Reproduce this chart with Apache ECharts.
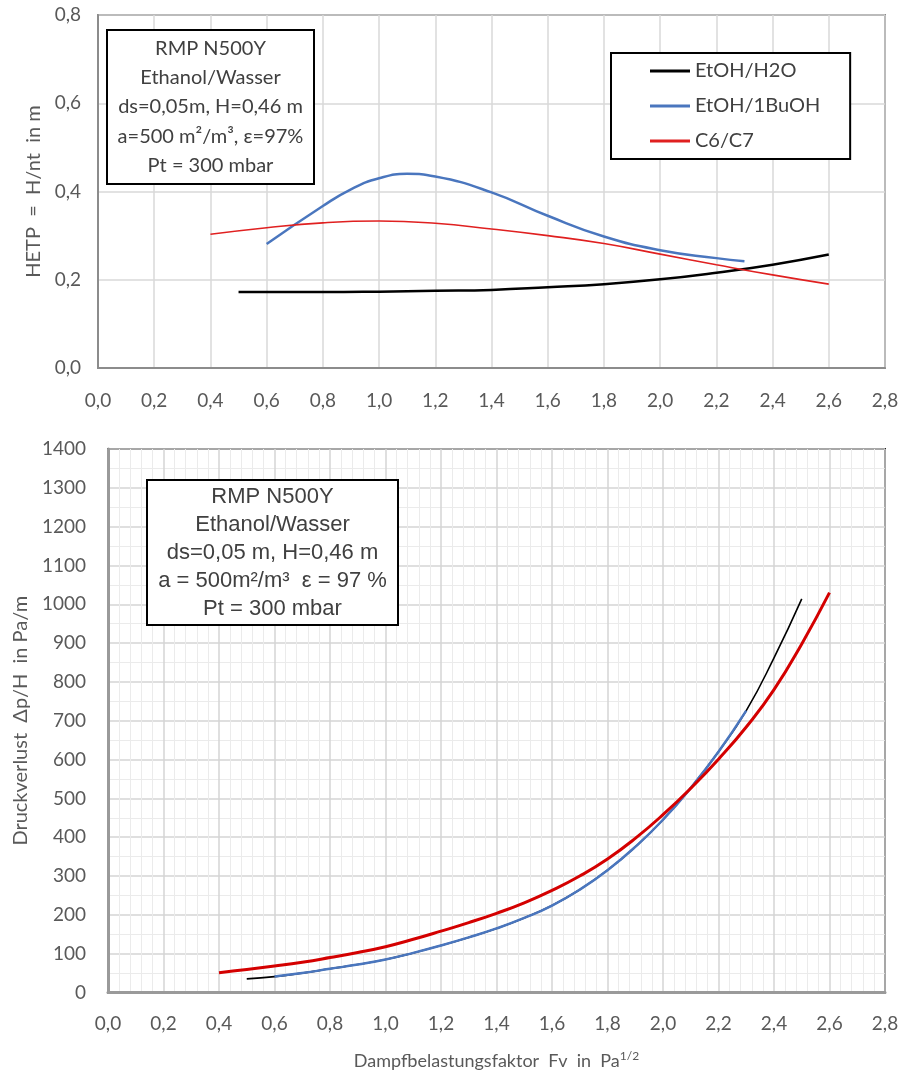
<!DOCTYPE html>
<html>
<head>
<meta charset="utf-8">
<script src="https://cdn.jsdelivr.net/npm/echarts@6/dist/echarts.min.js"></script>
<style>html,body{margin:0;padding:0;background:#fff;}#c{width:904px;height:1075px;}</style>
</head>
<body>
<div id="c"></div>
<script>
// ---- Top chart: HETP ----
const seriesNames = ['EtOH/H2O', 'EtOH/1BuOH', 'C6/C7'];
const hetpBlackX = [0.5, 0.8, 1.0, 1.2, 1.4, 1.6, 1.8, 2.0, 2.2, 2.4, 2.6];
const hetpBlackY = [0.172, 0.172, 0.173, 0.175, 0.177, 0.183, 0.190, 0.201, 0.216, 0.234, 0.257];
const hetpBlueX = [0.6, 0.8, 0.9, 1.0, 1.1, 1.2, 1.4, 1.6, 1.8, 2.0, 2.2, 2.3];
const hetpBlueY = [0.281, 0.367, 0.405, 0.430, 0.440, 0.434, 0.398, 0.345, 0.298, 0.267, 0.249, 0.242];
const hetpRedX = [0.4, 0.6, 0.8, 1.0, 1.2, 1.4, 1.6, 1.8, 2.0, 2.2, 2.4, 2.6];
const hetpRedY = [0.303, 0.318, 0.329, 0.333, 0.328, 0.315, 0.300, 0.282, 0.258, 0.234, 0.211, 0.190];

// ---- Bottom chart: pressure drop ----
const dpBlackX = [0.5, 0.6, 0.7, 0.8, 0.9, 1.0, 1.1, 1.2, 1.3, 1.4, 1.5, 1.6, 1.7, 1.8, 1.9, 2.0, 2.1, 2.2, 2.3, 2.4, 2.5];
const dpBlackY = [35, 41, 50, 61, 72, 85, 102, 121, 142, 165, 192, 224, 265, 315, 375, 445, 527, 620, 726, 862, 1014];
const dpBlueX = [0.6, 0.7, 0.8, 0.9, 1.0, 1.1, 1.2, 1.3, 1.4, 1.5, 1.6, 1.7, 1.8, 1.9, 2.0, 2.1, 2.2, 2.3];
const dpBlueY = [41, 50, 61, 72, 85, 102, 121, 142, 165, 192, 224, 265, 315, 375, 445, 527, 620, 726];
const dpRedX = [0.4, 0.5, 0.6, 0.7, 0.8, 0.9, 1.0, 1.1, 1.2, 1.3, 1.4, 1.5, 1.6, 1.7, 1.8, 1.9, 2.0, 2.1, 2.2, 2.3, 2.4, 2.5, 2.6];
const dpRedY = [51, 59, 68, 78, 90, 103, 118, 137, 158, 180, 204, 231, 263, 300, 344, 397, 458, 526, 601, 684, 780, 898, 1030];

const topBoxLines = ['RMP N500Y', 'Ethanol/Wasser', 'ds=0,05m, H=0,46 m', 'a=500 m²/m³, ε=97%', 'Pt = 300 mbar'];
const bottomBoxLines = ['RMP N500Y', 'Ethanol/Wasser', 'ds=0,05 m, H=0,46 m', 'a = 500m²/m³  ε = 97 %', 'Pt = 300 mbar'];

const zip = (xs, ys) => xs.map((x, i) => [x, ys[i]]);
const FONT = 'Lato';
const comma1 = v => v.toFixed(1).replace('.', ',');

const chart = echarts.init(document.getElementById('c'), null, {renderer: 'canvas'});

const axisLabel = (fmt, margin) => ({color: '#595959', fontSize: 19, fontFamily: FONT, margin: margin, formatter: fmt});

chart.setOption({
  animation: false,
  backgroundColor: '#fff',
  grid: [
    {left: 98, top: 15, width: 787, height: 353, show: true, borderColor: '#333', borderWidth: 1.5, backgroundColor: 'transparent'},
    {left: 108, top: 449, width: 777, height: 547, show: true, borderColor: '#222', borderWidth: 2, backgroundColor: 'transparent'}
  ],
  legend: {
    data: seriesNames,
    orient: 'vertical',
    left: 611, top: 53,
    padding: [8, 30, 8, 39],
    icon: 'rect',
    itemWidth: 40, itemHeight: 3, itemGap: 15,
    borderColor: '#000', borderWidth: 2,
    backgroundColor: '#fff',
    textStyle: {fontFamily: FONT, fontSize: 20, color: '#404040', lineHeight: 20}
  },
  xAxis: [
    {type: 'value', gridIndex: 0, min: 0, max: 2.8, interval: 0.2,
      axisLine: {show: true, onZero: false, lineStyle: {color: '#8c8c8c', width: 2}},
      axisTick: {show: false},
      axisLabel: axisLabel(comma1, 23),
      splitLine: {show: true, lineStyle: {color: '#d9d9d9', width: 1.5}}},
    {type: 'value', gridIndex: 1, min: 0, max: 2.8, interval: 0.2,
      axisLine: {show: true, onZero: false, lineStyle: {color: '#9a9a9a', width: 3}},
      axisTick: {show: false},
      axisLabel: axisLabel(comma1, 22),
      splitLine: {show: true, lineStyle: {color: '#d4d4d4', width: 1.5}},
      minorTick: {show: false, splitNumber: 5},
      minorSplitLine: {show: true, lineStyle: {color: '#ebebeb', width: 1}},
      name: '{a|Dampfbelastungsfaktor  Fv  in  Pa}{s|1/2}',
      nameLocation: 'middle', nameGap: 58,
      nameTextStyle: {rich: {
        a: {fontFamily: FONT, fontSize: 18, color: '#595959'},
        s: {fontFamily: FONT, fontSize: 12, color: '#595959', verticalAlign: 'top', padding: [0, 0, 9, 0]}
      }}}
  ],
  yAxis: [
    {type: 'value', gridIndex: 0, min: 0, max: 0.8, interval: 0.2,
      axisLine: {show: true, onZero: false, lineStyle: {color: '#8c8c8c', width: 2}},
      axisTick: {show: false},
      axisLabel: axisLabel(comma1, 17),
      splitLine: {show: true, lineStyle: {color: '#d9d9d9', width: 1.5}},
      name: 'HETP  =  H/nt  in m', nameLocation: 'middle', nameGap: 52,
      nameTextStyle: {fontFamily: FONT, fontSize: 20, color: '#595959'}},
    {type: 'value', gridIndex: 1, min: 0, max: 1400, interval: 100,
      axisLine: {show: true, onZero: false, lineStyle: {color: '#9a9a9a', width: 3}},
      axisTick: {show: false},
      axisLabel: axisLabel(v => String(v), 22),
      splitLine: {show: true, lineStyle: {color: '#d4d4d4', width: 1.5}},
      minorTick: {show: false, splitNumber: 2},
      minorSplitLine: {show: true, lineStyle: {color: '#ebebeb', width: 1}},
      name: 'Druckverlust  Δp/H  in Pa/m', nameLocation: 'middle', nameGap: 76,
      nameTextStyle: {fontFamily: FONT, fontSize: 20, color: '#595959'}}
  ],
  series: [
    {name: seriesNames[0], type: 'line', xAxisIndex: 0, yAxisIndex: 0, data: zip(hetpBlackX, hetpBlackY),
      smooth: true, symbol: 'none', lineStyle: {color: '#000', width: 2.5}, itemStyle: {color: '#000'}},
    {name: seriesNames[1], type: 'line', xAxisIndex: 0, yAxisIndex: 0, data: zip(hetpBlueX, hetpBlueY),
      smooth: true, symbol: 'none', lineStyle: {color: '#4a76be', width: 2.5}, itemStyle: {color: '#4a76be'}},
    {name: seriesNames[2], type: 'line', xAxisIndex: 0, yAxisIndex: 0, data: zip(hetpRedX, hetpRedY),
      smooth: true, symbol: 'none', lineStyle: {color: '#e02020', width: 1.6}, itemStyle: {color: '#e02020'}},
    {name: seriesNames[0], type: 'line', xAxisIndex: 1, yAxisIndex: 1, data: zip(dpBlackX, dpBlackY),
      smooth: true, symbol: 'none', lineStyle: {color: '#000', width: 1.6}, itemStyle: {color: '#000'}, z: 2},
    {name: seriesNames[1], type: 'line', xAxisIndex: 1, yAxisIndex: 1, data: zip(dpBlueX, dpBlueY),
      smooth: true, symbol: 'none', lineStyle: {color: '#4a76be', width: 2.5}, itemStyle: {color: '#4a76be'}, z: 3},
    {name: seriesNames[2], type: 'line', xAxisIndex: 1, yAxisIndex: 1, data: zip(dpRedX, dpRedY),
      smooth: true, symbol: 'none', lineStyle: {color: '#d40000', width: 3}, itemStyle: {color: '#d40000'}, z: 4}
  ],
  graphic: [
    {type: 'group', left: 106, top: 29, z: 100, children: [
      {type: 'rect', z: 100, shape: {x: 0, y: 0, width: 207, height: 154}, style: {fill: '#fff', stroke: '#000', lineWidth: 2}},
      {type: 'text', z: 101, x: 103.5, y: 77, style: {text: topBoxLines.join('\n'), fill: '#404040', font: '20px Lato',
        textAlign: 'center', textVerticalAlign: 'middle', lineHeight: 29.2}}
    ]},
    {type: 'group', left: 146, top: 479, z: 100, children: [
      {type: 'rect', z: 100, shape: {x: 0, y: 0, width: 251, height: 145}, style: {fill: '#fff', stroke: '#000', lineWidth: 2}},
      {type: 'text', z: 101, x: 125.5, y: 73, style: {text: bottomBoxLines.join('\n'), fill: '#404040', font: '22px "Liberation Sans"',
        textAlign: 'center', textVerticalAlign: 'middle', lineHeight: 27.8}}
    ]}
  ]
});
</script>
</body>
</html>
